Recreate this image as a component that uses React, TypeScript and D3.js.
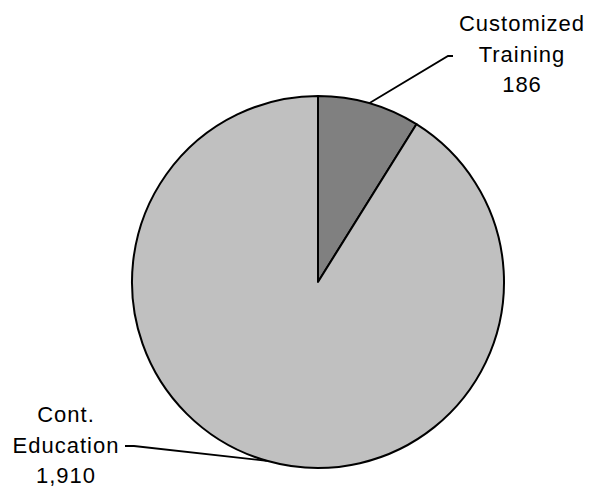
import { useMemo } from "react";
import * as d3 from "d3";

const WIDTH = 600;
const HEIGHT = 487;
const CENTER = { x: 318, y: 282 };
const RADIUS = 186;
const FONT = "'Liberation Sans', Arial, sans-serif";
const FONT_SIZE = 22;
const LINE_GAP = 30.5;

const categories = ["Customized Training", "Cont. Education"];
const values = [186, 1910];
const labelLines = [
  ["Customized", "Training", "186"],
  ["Cont.", "Education", "1,910"],
];
const colors = ["#808080", "#c0c0c0"];

// where the label block sits and where the leader line bends
const LABELS = [
  { x: 522, y: 31, elbow: [448, 56], end: [453, 56] },
  { x: 66, y: 422, elbow: [134, 446], end: [125, 446] },
];

export default function App() {
  const slices = useMemo(() => {
    const pie = d3
      .pie<number>()
      .sort(null)
      .value((d) => d)
      .startAngle(0)
      .endAngle(2 * Math.PI);
    return pie(values);
  }, []);

  const arc = d3.arc<d3.PieArcDatum<number>>().innerRadius(0).outerRadius(RADIUS);
  // zero-width ring at the rim, so its centroid is the mid point of the arc edge
  const rim = d3.arc<d3.PieArcDatum<number>>().innerRadius(RADIUS).outerRadius(RADIUS);

  return (
    <div style={{ position: "absolute", left: 0, top: 0 }}>
      <svg width={WIDTH} height={HEIGHT} style={{ display: "block", background: "#fff" }}>
        <g transform={`translate(${CENTER.x},${CENTER.y})`}>
          {slices.map((s, i) => (
            <path
              key={categories[i]}
              d={arc(s) ?? ""}
              fill={colors[i]}
              stroke="#000"
              strokeWidth={2}
              strokeLinejoin="round"
            />
          ))}
        </g>
        {slices.map((s, i) => {
          const [cx, cy] = rim.centroid(s);
          const lab = LABELS[i];
          const pts: [number, number][] = [
            [cx + CENTER.x, cy + CENTER.y],
            lab.elbow as [number, number],
            lab.end as [number, number],
          ];
          return (
            <path
              key={"lead" + i}
              d={d3.line()(pts) ?? ""}
              fill="none"
              stroke="#000"
              strokeWidth={1.8}
            />
          );
        })}
        {labelLines.map((lines, i) => (
          <text
            key={"lab" + i}
            x={LABELS[i].x}
            y={LABELS[i].y}
            textAnchor="middle"
            fontFamily={FONT}
            fontSize={FONT_SIZE}
            letterSpacing={1}
            fill="#000"
          >
            {lines.map((t, j) => (
              <tspan key={j} x={LABELS[i].x} dy={j === 0 ? 0 : LINE_GAP}>
                {t}
              </tspan>
            ))}
          </text>
        ))}
      </svg>
    </div>
  );
}
